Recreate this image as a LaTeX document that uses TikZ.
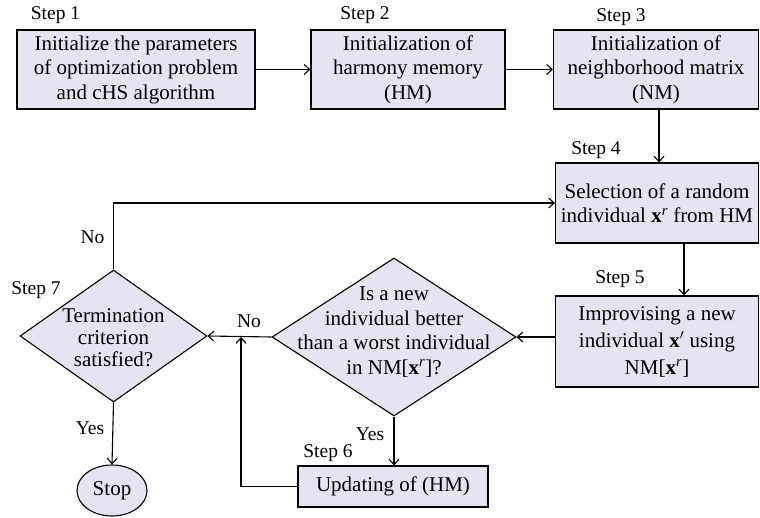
\documentclass[tikz,border=0pt]{standalone}
\usepackage{fontspec}
\setmainfont{Liberation Serif}
\usetikzlibrary{shapes.geometric,arrows.meta}
\definecolor{boxfill}{RGB}{229,229,242}
\newcommand{\xr}{\textbf{x}\textsuperscript{\textit{r}}}
\begin{document}
\begin{tikzpicture}[x=1pt,y=-1pt,
  every node/.style={font=\fontsize{21}{24.5}\selectfont},
  box/.style={draw, fill=boxfill, line width=1.1pt, inner sep=0pt, align=center},
  dia/.style={draw, fill=boxfill, diamond, line width=1.1pt, inner sep=0pt},
  term/.style={draw, fill=boxfill, ellipse, line width=1.1pt, inner sep=0pt},
  lbl/.style={inner sep=0pt, font=\fontsize{19.5}{22}\selectfont},
  txt/.style={inner sep=0pt, align=center},
  arr/.style={line width=1.1pt, -{Straight Barb[length=5.5pt,width=10pt]}},
  con/.style={line width=1.1pt}]
\useasboundingbox (0,0) rectangle (760,518);

% boxes
\node[box, minimum width=238, minimum height=79] (b1) at (136,69.5)
  {Initialize the parameters\\of optimization problem\\and cHS algorithm};
\node[box, minimum width=194, minimum height=79] (b2) at (408,69.5)
  {Initialization of\\harmony memory\\(HM)};
\node[box, minimum width=205, minimum height=79] (b3) at (656,69.5)
  {Initialization of\\neighborhood matrix\\(NM)};
\node[box, minimum width=203, minimum height=80] (b4) at (657,203)
  {Selection of a random\\individual \xr\ from HM};
\node[box, minimum width=203, minimum height=91, font=\fontsize{21}{27}\selectfont] (b5) at (657,341.5)
  {Improvising a new\\individual \textbf{x}$'$ using\\NM[\xr]};
\node[box, minimum width=190, minimum height=41] (b6) at (393,486.5)
  {Updating of (HM)};

% diamonds
\node[dia, minimum width=244, minimum height=158] (d2) at (394,337) {};
\node[txt] (d2t) at (394,332) {Is a new\\individual better\\than a worst individual\\in NM[\xr]?};
\node[dia, minimum width=187, minimum height=132] (d1) at (113.5,336) {};
\node[txt, font=\fontsize{21}{22}\selectfont] (d1t) at (113.5,338) {Termination\\criterion\\satisfied?};

% terminal
\node[term, minimum width=70, minimum height=51] (stop) at (112,490.5) {Stop};

% step labels
\node[lbl] (s1) at (55.5,15) {Step 1};
\node[lbl] (s2) at (365,15) {Step 2};
\node[lbl] (s3) at (621,17) {Step 3};
\node[lbl] (s4) at (596,150) {Step 4};
\node[lbl] (s5) at (620,279) {Step 5};
\node[lbl] (s6) at (328,453) {Step 6};
\node[lbl] (s7) at (36,290) {Step 7};

% yes/no labels
\node[lbl] (no1) at (92.5,237) {No};
\node[lbl] (no2) at (249,321) {No};
\node[lbl] (yes1) at (90,428) {Yes};
\node[lbl] (yes2) at (370,434) {Yes};

% connectors
\coordinate (j) at (241,337);
\draw[arr] (b1.east) -- (b2.west);
\draw[arr] (b2.east) -- (b3.west);
\draw[arr] ([xshift=3pt]b3.south) -- ([xshift=3pt]b3.south |- b4.north);
\draw[arr] ([xshift=27pt]b4.south) -- ([xshift=27pt]b4.south |- b5.north);
\draw[arr] (b5.west |- d2.east) -- (d2.east);
\draw[arr] (d2.west) -- (d1.east);
\draw[arr] (d2.south) -- (d2.south |- b6.north);
\draw[arr] (b6.west) -| (j);
\draw[arr] (d1.north) |- (b4.west);
\draw[arr] (d1.south) -- (stop.north);
\end{tikzpicture}
\end{document}
